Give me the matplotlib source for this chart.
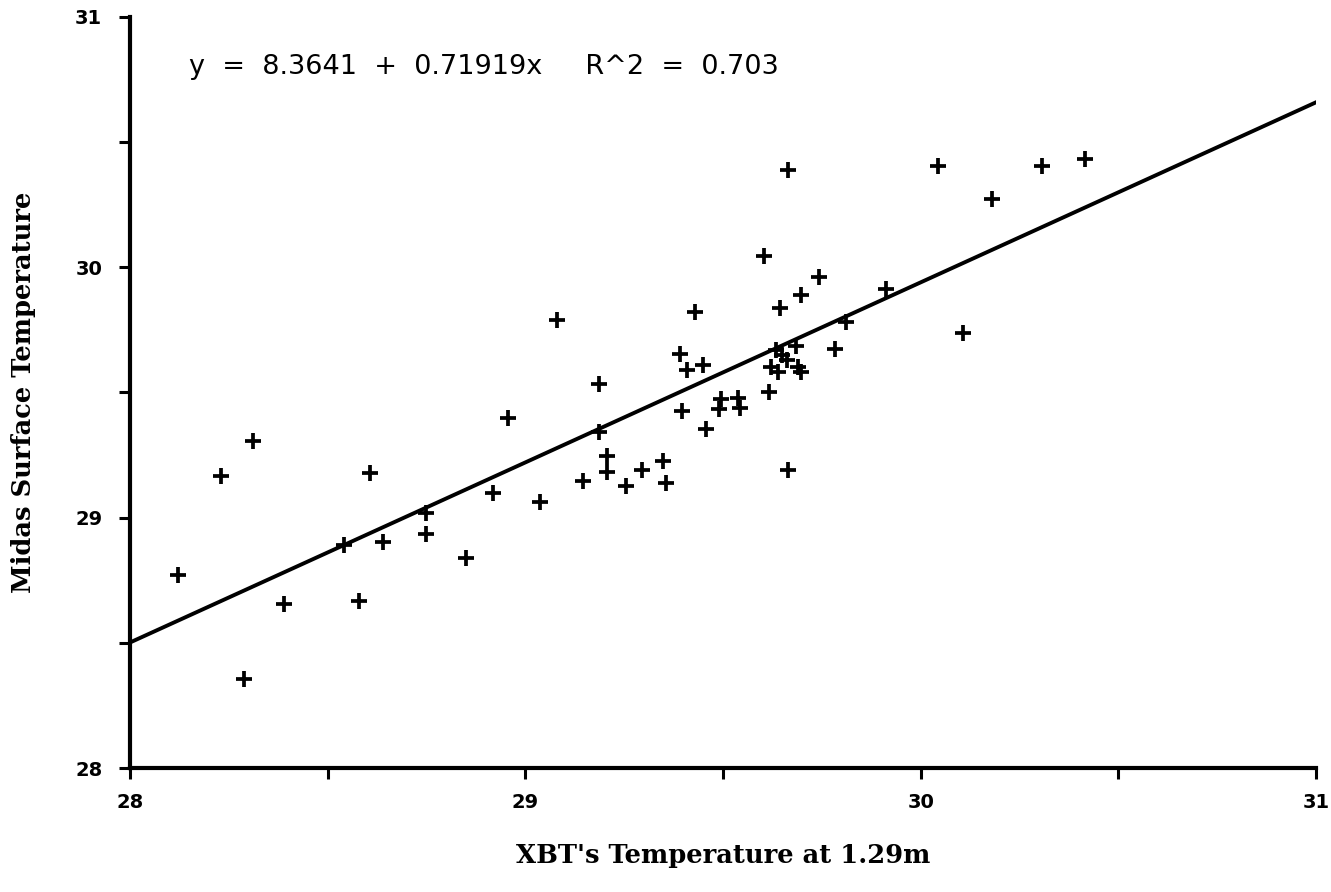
import numpy as np
import matplotlib
matplotlib.use("Agg")
import matplotlib.pyplot as plt
from matplotlib.ticker import MultipleLocator

# XBT temperature at 1.29m vs Midas surface temperature
xbt_temp = [28.122, 28.230, 28.310, 28.607, 28.955, 28.918, 28.749, 28.749, 28.850, 28.639,
            28.540, 28.390, 28.579, 28.289, 29.079, 29.187, 29.187, 29.207, 29.207, 29.145,
            29.255, 29.296, 29.349, 29.356, 29.037, 29.429, 29.390, 29.410, 29.450, 29.397,
            29.456, 29.495, 29.491, 29.537, 29.543, 29.617, 29.664, 29.644, 29.604, 29.665,
            29.743, 29.697, 29.912, 29.811, 29.783, 29.685, 29.635, 29.649, 29.661, 29.622,
            29.639, 29.689, 29.697, 30.043, 30.308, 30.416, 30.180, 30.106]
midas_temp = [28.771, 29.168, 29.308, 29.180, 29.397, 29.097, 29.020, 28.935, 28.838, 28.902,
              28.891, 28.654, 28.667, 28.356, 29.790, 29.534, 29.344, 29.248, 29.181, 29.148,
              29.128, 29.191, 29.227, 29.140, 29.064, 29.823, 29.654, 29.590, 29.610, 29.427,
              29.353, 29.473, 29.433, 29.477, 29.437, 29.503, 29.191, 29.837, 30.047, 30.389,
              29.963, 29.888, 29.912, 29.783, 29.674, 29.686, 29.671, 29.648, 29.630, 29.600,
              29.580, 29.602, 29.580, 30.403, 30.403, 30.433, 30.273, 29.739]

intercept = 8.3641
slope = 0.71919
r2 = 0.703

fig = plt.figure(figsize=(13.31, 8.92), dpi=100)
ax = fig.add_axes([0.0977, 0.139, 0.891, 0.842])

ax.plot(xbt_temp, midas_temp, linestyle="none", marker="+", color="black",
        markersize=11.5, markeredgewidth=2.7)

x_line = np.array([28.0, 31.0])
ax.plot(x_line, intercept + slope * x_line, color="black", linewidth=2.8)

ax.set_xlim(28, 31)
ax.set_ylim(28, 31)

for side in ["top", "right"]:
    ax.spines[side].set_visible(False)
for side in ["left", "bottom"]:
    ax.spines[side].set_linewidth(3)

ax.xaxis.set_major_locator(MultipleLocator(1))
ax.xaxis.set_minor_locator(MultipleLocator(0.5))
ax.yaxis.set_major_locator(MultipleLocator(1))
ax.yaxis.set_minor_locator(MultipleLocator(0.5))
ax.tick_params(which="both", direction="out", width=2.2, length=8, color="black")
ax.tick_params(axis="x", pad=10)
ax.tick_params(axis="y", pad=12)
plt.setp(ax.get_xticklabels() + ax.get_yticklabels(), fontsize=14,
         family="DejaVu Sans", fontweight="bold")

ax.text(28.15, 30.8, f"y  =  {intercept}  +  {slope}x     R^2  =  {r2}",
        fontsize=19.5, family="DejaVu Sans", va="center", ha="left")

ax.set_xlabel("XBT's Temperature at 1.29m", fontsize=18.5, family="DejaVu Serif",
              fontweight="bold", labelpad=22)
ax.set_ylabel("Midas Surface Temperature", fontsize=18.5, family="DejaVu Serif",
              fontweight="bold", labelpad=28)

plt.savefig("out.png", dpi=100)
